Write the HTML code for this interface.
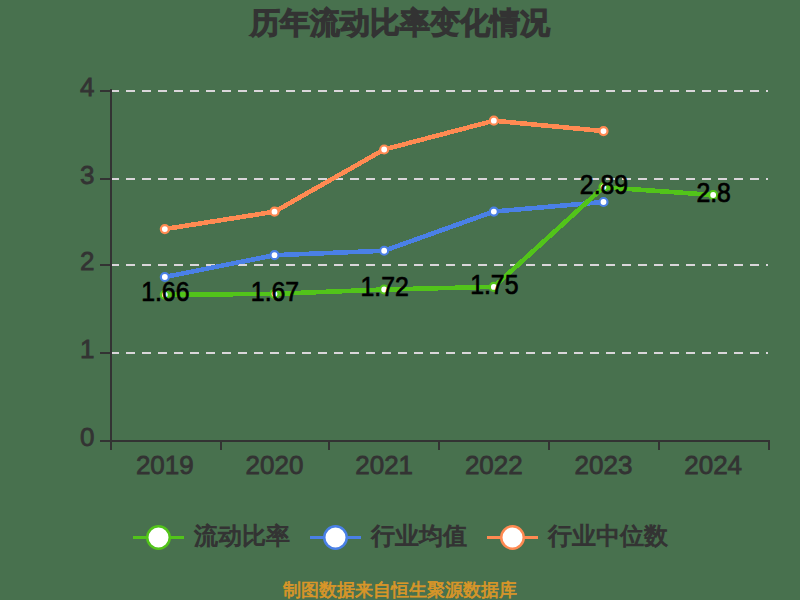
<!DOCTYPE html>
<html><head><meta charset="utf-8"><style>
html,body{margin:0;padding:0;width:800px;height:600px;overflow:hidden;background:#48714e;}
svg{display:block;}
text{font-family:"Liberation Sans",sans-serif;}
.ax{font-size:26px;fill:#333;stroke:#333;stroke-width:0.8px;}
.lb{font-size:27px;fill:#000;stroke:#000;stroke-width:0.7px;}
.lg{font-size:24px;fill:#333;stroke:#333;stroke-width:1.1px;}
.tt{font-size:30px;fill:#333;stroke:#333;stroke-width:2.2px;}
.src{font-size:18px;fill:#d99628;stroke:#d99628;stroke-width:0.7px;}
</style></head><body>
<svg width="800" height="600" viewBox="0 0 800 600">
<line x1="110" y1="353" x2="768" y2="353" stroke="#dad6da" stroke-width="2" stroke-dasharray="9 7"/>
<line x1="110" y1="265" x2="768" y2="265" stroke="#dad6da" stroke-width="2" stroke-dasharray="9 7"/>
<line x1="110" y1="179" x2="768" y2="179" stroke="#dad6da" stroke-width="2" stroke-dasharray="9 7"/>
<line x1="110" y1="91" x2="768" y2="91" stroke="#dad6da" stroke-width="2" stroke-dasharray="9 7"/>
<line x1="111" y1="89" x2="111" y2="450" stroke="#333" stroke-width="2"/>
<line x1="100" y1="441" x2="770" y2="441" stroke="#333" stroke-width="2"/>
<line x1="100" y1="353" x2="111" y2="353" stroke="#333" stroke-width="2"/>
<line x1="100" y1="265" x2="111" y2="265" stroke="#333" stroke-width="2"/>
<line x1="100" y1="179" x2="111" y2="179" stroke="#333" stroke-width="2"/>
<line x1="100" y1="91" x2="111" y2="91" stroke="#333" stroke-width="2"/>
<line x1="100" y1="441" x2="111" y2="441" stroke="#333" stroke-width="2"/>
<line x1="111" y1="441" x2="111" y2="450" stroke="#333" stroke-width="2"/>
<line x1="221" y1="441" x2="221" y2="450" stroke="#333" stroke-width="2"/>
<line x1="329" y1="441" x2="329" y2="450" stroke="#333" stroke-width="2"/>
<line x1="439" y1="441" x2="439" y2="450" stroke="#333" stroke-width="2"/>
<line x1="549" y1="441" x2="549" y2="450" stroke="#333" stroke-width="2"/>
<line x1="659" y1="441" x2="659" y2="450" stroke="#333" stroke-width="2"/>
<line x1="769" y1="441" x2="769" y2="450" stroke="#333" stroke-width="2"/>
<text x="94.5" y="357.8" text-anchor="end" class="ax">1</text>
<text x="94.5" y="269.8" text-anchor="end" class="ax">2</text>
<text x="94.5" y="183.8" text-anchor="end" class="ax">3</text>
<text x="94.5" y="95.8" text-anchor="end" class="ax">4</text>
<text x="94.5" y="445.8" text-anchor="end" class="ax">0</text>
<text x="164.83" y="474" text-anchor="middle" class="ax">2019</text>
<text x="274.50" y="474" text-anchor="middle" class="ax">2020</text>
<text x="384.17" y="474" text-anchor="middle" class="ax">2021</text>
<text x="493.83" y="474" text-anchor="middle" class="ax">2022</text>
<text x="603.50" y="474" text-anchor="middle" class="ax">2023</text>
<text x="713.17" y="474" text-anchor="middle" class="ax">2024</text>
<polyline points="164.83,229.04 274.50,211.71 384.17,149.50 493.83,120.71 603.50,131.04" fill="none" stroke="#ff8a52" stroke-width="4.6" stroke-linejoin="round" shape-rendering="crispEdges"/><circle cx="164.83" cy="229.04" r="4" fill="#fff" stroke="#ff8a52" stroke-width="2.2"/><circle cx="274.50" cy="211.71" r="4" fill="#fff" stroke="#ff8a52" stroke-width="2.2"/><circle cx="384.17" cy="149.50" r="4" fill="#fff" stroke="#ff8a52" stroke-width="2.2"/><circle cx="493.83" cy="120.71" r="4" fill="#fff" stroke="#ff8a52" stroke-width="2.2"/><circle cx="603.50" cy="131.04" r="4" fill="#fff" stroke="#ff8a52" stroke-width="2.2"/>
<polyline points="164.83,276.99 274.50,255.20 384.17,250.74 493.83,211.54 603.50,202.00" fill="none" stroke="#4a80e6" stroke-width="4.6" stroke-linejoin="round" shape-rendering="crispEdges"/><circle cx="164.83" cy="276.99" r="4" fill="#fff" stroke="#4a80e6" stroke-width="2.2"/><circle cx="274.50" cy="255.20" r="4" fill="#fff" stroke="#4a80e6" stroke-width="2.2"/><circle cx="384.17" cy="250.74" r="4" fill="#fff" stroke="#4a80e6" stroke-width="2.2"/><circle cx="493.83" cy="211.54" r="4" fill="#fff" stroke="#4a80e6" stroke-width="2.2"/><circle cx="603.50" cy="202.00" r="4" fill="#fff" stroke="#4a80e6" stroke-width="2.2"/>
<polyline points="164.83,294.75 274.50,293.88 384.17,289.50 493.83,286.88 603.50,187.12 713.17,195.00" fill="none" stroke="#52c41a" stroke-width="4.6" stroke-linejoin="round" shape-rendering="crispEdges"/><circle cx="164.83" cy="294.75" r="4" fill="#fff" stroke="#52c41a" stroke-width="2.2"/><circle cx="274.50" cy="293.88" r="4" fill="#fff" stroke="#52c41a" stroke-width="2.2"/><circle cx="384.17" cy="289.50" r="4" fill="#fff" stroke="#52c41a" stroke-width="2.2"/><circle cx="493.83" cy="286.88" r="4" fill="#fff" stroke="#52c41a" stroke-width="2.2"/><circle cx="603.50" cy="187.12" r="4" fill="#fff" stroke="#52c41a" stroke-width="2.2"/><circle cx="713.17" cy="195.00" r="4" fill="#fff" stroke="#52c41a" stroke-width="2.2"/>
<text x="165.33" y="301.45" text-anchor="middle" class="lb" transform="translate(165.33 0) scale(0.92 1) translate(-165.33 0)">1.66</text>
<text x="275.00" y="300.575" text-anchor="middle" class="lb" transform="translate(275.00 0) scale(0.92 1) translate(-275.00 0)">1.67</text>
<text x="384.67" y="296.2" text-anchor="middle" class="lb" transform="translate(384.67 0) scale(0.92 1) translate(-384.67 0)">1.72</text>
<text x="494.33" y="293.575" text-anchor="middle" class="lb" transform="translate(494.33 0) scale(0.92 1) translate(-494.33 0)">1.75</text>
<text x="604.00" y="193.825" text-anchor="middle" class="lb" transform="translate(604.00 0) scale(0.92 1) translate(-604.00 0)">2.89</text>
<text x="713.67" y="201.70000000000002" text-anchor="middle" class="lb" transform="translate(713.67 0) scale(0.92 1) translate(-713.67 0)">2.8</text>
<line x1="133" y1="537.5" x2="184" y2="537.5" stroke="#52c41a" stroke-width="3"/><circle cx="158.5" cy="537.5" r="11.25" fill="#fff" stroke="#52c41a" stroke-width="2.5"/><text x="194" y="544" class="lg">流动比率</text>
<line x1="310" y1="537.5" x2="361" y2="537.5" stroke="#4a80e6" stroke-width="3"/><circle cx="335.5" cy="537.5" r="11.25" fill="#fff" stroke="#4a80e6" stroke-width="2.5"/><text x="371" y="544" class="lg">行业均值</text>
<line x1="487" y1="537.5" x2="538" y2="537.5" stroke="#ff8a52" stroke-width="3"/><circle cx="512.5" cy="537.5" r="11.25" fill="#fff" stroke="#ff8a52" stroke-width="2.5"/><text x="548" y="544" class="lg">行业中位数</text>
<text x="400" y="33" text-anchor="middle" class="tt">历年流动比率变化情况</text>
<text x="400" y="596" text-anchor="middle" class="src">制图数据来自恒生聚源数据库</text>
</svg>
</body></html>
